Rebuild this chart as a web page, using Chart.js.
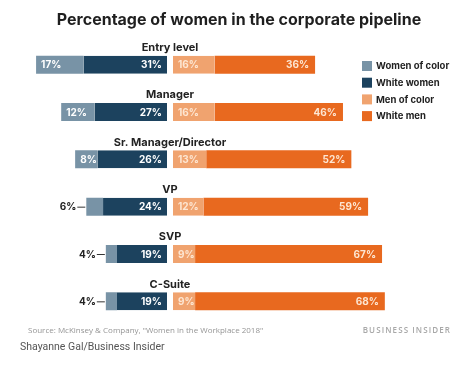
<!DOCTYPE html>
<html>
<head>
<meta charset="utf-8">
<script src="https://cdn.jsdelivr.net/npm/chart.js@4"></script>
<style>
  html, body { margin: 0; padding: 0; background: #fff; }
  #wrap { position: relative; width: 474px; height: 370px; }
  canvas { position: absolute; left: 0; top: 0; }
  .src { position: absolute; left: 28px; top: 324px; font: 8px "Open Sans", sans-serif; color: #959595; white-space: nowrap; }
  .bi { position: absolute; right: 23px; top: 324px; font: 600 8px "Open Sans", sans-serif; color: #a8a8a8; letter-spacing: 1.1px; white-space: nowrap; }
  .credit { position: absolute; left: 20px; top: 340px; font: 10.5px Roboto, sans-serif; color: #555; white-space: nowrap; }
</style>
</head>
<body>
<div id="wrap">
  <canvas id="c" width="474" height="370"></canvas>
  <div class="src">Source: McKinsey &amp; Company, "Women in the Workplace 2018"</div>
  <div class="bi">BUSINESS INSIDER</div>
  <div class="credit">Shayanne Gal/Business Insider</div>
</div>
<script>
const categories = ["Entry level", "Manager", "Sr. Manager/Director", "VP", "SVP", "C-Suite"];
const womenOfColor = [17, 12, 8, 6, 4, 4];
const whiteWomen   = [31, 27, 26, 24, 19, 19];
const menOfColor   = [16, 16, 13, 12, 9, 9];
const whiteMen     = [36, 46, 52, 59, 67, 68];
const seriesNames  = ["Women of color", "White women", "Men of color", "White men"];
const seriesColors = ["#7893a6", "#1c425e", "#f0a36f", "#e8691f"];
const titleText = "Percentage of women in the corporate pipeline";

const FONT = "Inter, 'Open Sans', sans-serif";

// women on the left (negative), men on the right (positive)
const datasets = [
  { label: seriesNames[1], data: whiteWomen.map(v => -v), backgroundColor: seriesColors[1],
    borderColor: "#ffffff", borderWidth: {top:0, right:3, bottom:0, left:0}, borderSkipped: false, key: 1 },
  { label: seriesNames[0], data: womenOfColor.map(v => -v), backgroundColor: seriesColors[0],
    borderWidth: 0, borderSkipped: false, key: 0 },
  { label: seriesNames[2], data: menOfColor, backgroundColor: seriesColors[2],
    borderColor: "#ffffff", borderWidth: {top:0, right:0, bottom:0, left:3}, borderSkipped: false, key: 2 },
  { label: seriesNames[3], data: whiteMen, backgroundColor: seriesColors[3],
    borderWidth: 0, borderSkipped: false, key: 3 }
];
datasets.forEach(d => { d.barThickness = 18; d.inflateAmount = 0; });

const labelsPlugin = {
  id: "labelsPlugin",
  afterDatasetsDraw(chart) {
    const ctx = chart.ctx;
    ctx.save();
    // title
    ctx.textBaseline = "middle";
    ctx.textAlign = "center";
    ctx.fillStyle = "#1f1f1f";
    ctx.font = "700 16px " + FONT;
    ctx.fillText(titleText, 239, 20.5);

    ctx.font = "700 10px " + FONT;
    chart.data.datasets.forEach((ds, i) => {
      const meta = chart.getDatasetMeta(i);
      meta.data.forEach((el, j) => {
        const p = el.getProps(["x", "y", "base"], true);
        const v = Math.abs(ds.data[j]);
        const txt = v + "%";
        if (ds.key === 0) {
          const left = Math.min(p.x, p.base);
          if (v >= 8) {
            ctx.fillStyle = "#ffffff"; ctx.textAlign = "left";
            ctx.fillText(txt, left + 5, p.y + 0.5);
          } else {
            ctx.fillStyle = "#222222"; ctx.textAlign = "right";
            ctx.fillText(txt, left - 10, p.y + 0.5);
            ctx.strokeStyle = "#333333"; ctx.lineWidth = 1;
            ctx.beginPath(); ctx.moveTo(left - 9, p.y + 0.5); ctx.lineTo(left - 1, p.y + 0.5); ctx.stroke();
          }
        } else if (ds.key === 1) {
          ctx.fillStyle = "#ffffff"; ctx.textAlign = "right";
          ctx.fillText(txt, Math.max(p.x, p.base) - 8, p.y + 0.5);
        } else if (ds.key === 2) {
          ctx.fillStyle = "#fde6d2"; ctx.textAlign = "left";
          ctx.fillText(txt, Math.min(p.x, p.base) + 8, p.y + 0.5);
        } else {
          ctx.fillStyle = "#fde6d2"; ctx.textAlign = "right";
          ctx.fillText(txt, Math.max(p.x, p.base) - 6, p.y + 0.5);
        }
      });
    });
    // category labels above bars
    const xs = chart.scales.x, ys = chart.scales.y;
    const cx = xs.getPixelForValue(0);
    ctx.fillStyle = "#222222"; ctx.textAlign = "center";
    ctx.font = "700 11px " + FONT;
    categories.forEach((c, j) => {
      ctx.fillText(c, cx, ys.getPixelForValue(j) - 17);
    });
    // legend
    ctx.textAlign = "left";
    ctx.font = "700 9.5px " + FONT;
    seriesNames.forEach((n, k) => {
      const y = 61 + k * 16.7;
      ctx.fillStyle = seriesColors[k];
      ctx.fillRect(362, y, 10, 10);
      ctx.fillStyle = "#222222";
      ctx.fillText(n, 376, y + 5.5);
    });
    ctx.restore();
  }
};

new Chart(document.getElementById("c"), {
  type: "bar",
  data: { labels: categories, datasets },
  options: {
    indexAxis: "y",
    responsive: false,
    animation: false,
    layout: { padding: { left: 30.5, right: 80.8, top: 41, bottom: 45 } },
    scales: {
      x: { stacked: true, min: -50, max: 80, display: false },
      y: { stacked: true, display: false }
    },
    plugins: {
      legend: { display: false },
      tooltip: { enabled: false },
      title: { display: false }
    }
  },
  plugins: [labelsPlugin]
});
</script>
</body>
</html>
